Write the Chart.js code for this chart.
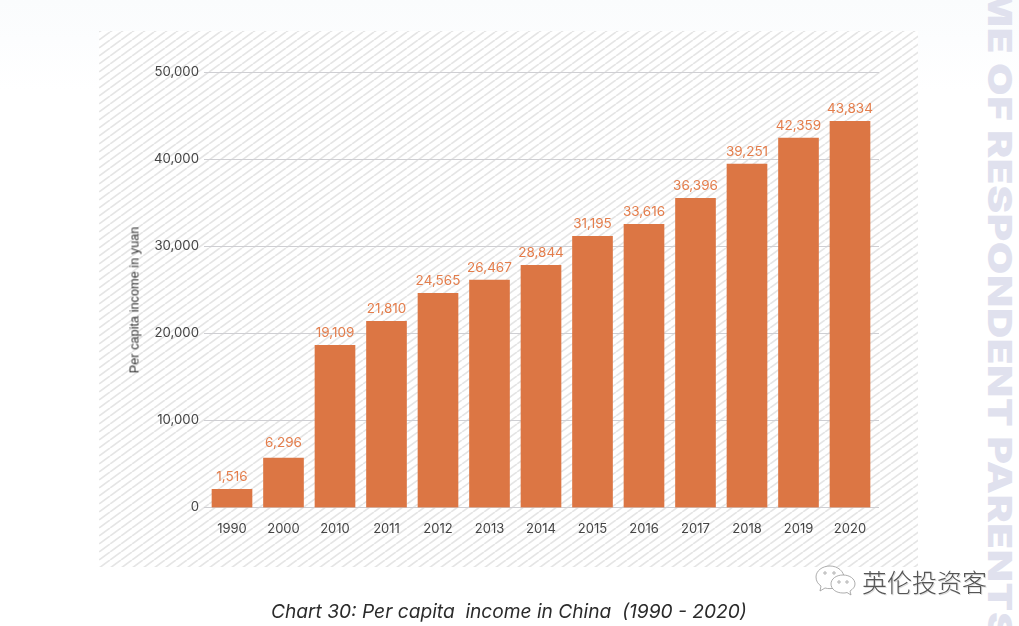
<!DOCTYPE html>
<html>
<head>
<meta charset="utf-8">
<script src="https://cdn.jsdelivr.net/npm/chart.js@4"></script>
<style>
body { margin: 0; width: 1019px; height: 626px; overflow: hidden; position: relative;
  background: linear-gradient(#fafcfd 0, #fcfdfe 40px, #ffffff 90px); font-family: Inter, sans-serif; }
canvas { position: absolute; left: 0; top: 0; }
#ytitle { position: absolute; left: 134px; top: 300px; transform: translate(-50%, -50%) rotate(-90deg);
  font: 12.75px "Liberation Sans"; color: #3a3a3a; white-space: nowrap; }
#caption { position: absolute; left: 271px; top: 599px; font-size: 19.15px; font-style: italic; color: #2b2b2b; white-space: pre; }
#side { position: absolute; left: 980px; top: -13px; writing-mode: vertical-rl; font-size: 33px; font-weight: 900;
  color: #e0e1ee; white-space: nowrap; letter-spacing: 0.5px; transform: scaleY(1.27); transform-origin: top; }
#wechat { position: absolute; left: 862px; top: 566px; font: 300 25px "Noto Sans CJK SC"; line-height: 30px; color: #555;
  text-shadow: 1px 1px 0 #ddd; white-space: nowrap; }
#logo { position: absolute; left: 814px; top: 564px; }
</style>
</head>
<body>
<div id="side">ME OF RESPONDENT PARENTS</div>
<canvas id="myChart" width="1019" height="626"></canvas>
<div id="ytitle">Per capita income in yuan</div>
<div id="caption">Chart 30: Per capita  income in China  (1990 - 2020)</div>
<svg id="logo" width="44" height="36" viewBox="0 0 44 36" fill="#fff" stroke="#999" stroke-width="0.8">
  <path d="M16 2c-8 0-14 5-14 11 0 4 2 7 5 9l-1 5 5-3c2 .5 3 .6 5 .6 8 0 14-5 14-11S24 2 16 2z"/>
  <path d="M29 11c-7 0-12 4-12 9s5 9 12 9c1 0 3 0 4-.5l4 2.500-1-4c3-2 5-4 5-7 0-5-5-9-12-9z"/>
  <circle cx="11" cy="9" r="1.200"/><circle cx="20" cy="9" r="1.200"/>
  <circle cx="25" cy="18" r="1.200"/><circle cx="33" cy="18" r="1.200"/>
</svg>
<div id="wechat">英伦投资客</div>
<script>
const years = ['1990', '2000', '2010', '2011', '2012', '2013', '2014', '2015', '2016', '2017', '2018', '2019', '2020'];
// bar heights as drawn in the picture, they differ a bit from the printed labels
const barHeights = [2100, 5670, 18650, 21410, 24630, 26130, 27850, 31180, 32560, 35550, 39460, 42450, 44400];
const printedLabels = ['1,516', '6,296', '19,109', '21,810', '24,565', '26,467', '28,844', '31,195', '33,616', '36,396', '39,251', '42,359', '43,834'];
const yTicks = [0, 10000, 20000, 30000, 40000, 50000];

const barColor = '#dc7644';
const labelColor = '#e47d4b';
const textColor = '#444444';
const gridColor = '#cfcfd3';

function makeHatch(ctx) {
    const tile = document.createElement('canvas');
    tile.width = 11;
    tile.height = 8;
    const t = tile.getContext('2d');
    t.fillStyle = '#ffffff';
    t.fillRect(0, 0, 11, 8);
    t.strokeStyle = '#e5e5e5';
    t.lineWidth = 1.7;
    for (const dx of [-11, 0, 11]) {
        t.beginPath();
        t.moveTo(dx, 8);
        t.lineTo(dx + 11, 0);
        t.stroke();
    }
    return ctx.createPattern(tile, 'repeat');
}

// hatched panel and grid lines go under the bars
const panelPlugin = {
    id: 'panel',
    beforeDraw(chart) {
        const ctx = chart.ctx;
        ctx.save();
        ctx.fillStyle = makeHatch(ctx);
        ctx.fillRect(99, 31, 819, 536);
        ctx.restore();
    },
    beforeDatasetsDraw(chart) {
        const ctx = chart.ctx;
        const area = chart.chartArea;
        const y = chart.scales.y;
        ctx.save();
        ctx.strokeStyle = gridColor;
        ctx.lineWidth = 1;
        yTicks.forEach(v => {
            const py = y.getPixelForValue(v);
            ctx.beginPath();
            ctx.moveTo(area.left - 2.25, py);
            ctx.lineTo(area.right + 3.25, py);
            ctx.stroke();
        });
        ctx.restore();
    },
    afterDatasetsDraw(chart) {
        const ctx = chart.ctx;
        ctx.save();
        ctx.fillStyle = labelColor;
        ctx.font = '13.5px Inter';
        ctx.textAlign = 'center';
        ctx.textBaseline = 'middle';
        chart.getDatasetMeta(0).data.forEach((bar, i) => {
            // the 2000 label sits a little higher in the original
            ctx.fillText(printedLabels[i], bar.x, bar.y - (i === 1 ? 15.5 : 12.5));
        });
        ctx.restore();
    }
};

new Chart(document.getElementById('myChart').getContext('2d'), {
    type: 'bar',
    data: {
        labels: years,
        datasets: [{
            data: barHeights,
            backgroundColor: barColor,
            barThickness: 40
        }]
    },
    options: {
        responsive: false,
        animation: false,
        layout: { padding: { top: 72.5, right: 143.25 } },
        plugins: { legend: { display: false }, tooltip: { enabled: false } },
        scales: {
            x: {
                grid: { display: false },
                border: { display: false },
                ticks: { color: textColor, font: { family: 'Inter', size: 13 }, padding: 6, maxRotation: 0, autoSkip: false },
                afterFit(s) { s.height = 118.5; }
            },
            y: {
                min: 0,
                max: 50000,
                grid: { display: false, drawTicks: false },
                border: { display: false },
                afterBuildTicks(s) { s.ticks = yTicks.map(v => ({ value: v })); },
                ticks: { color: textColor, font: { family: 'Inter', size: 13.2 }, padding: 7.25, callback: v => v.toLocaleString('en-US') },
                afterFit(s) { s.width = 206.25; }
            }
        }
    },
    plugins: [panelPlugin]
});
</script>
</body>
</html>
